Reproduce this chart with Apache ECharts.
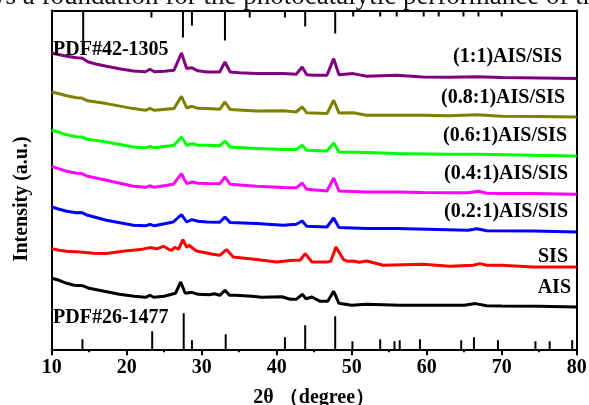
<!DOCTYPE html>
<html>
<head>
<meta charset="utf-8">
<script src="https://cdn.jsdelivr.net/npm/echarts@6/dist/echarts.min.js"></script>
<style>
html,body{margin:0;padding:0;background:#fff;}
#chart{width:589px;height:405px;}
</style>
</head>
<body>
<div id="chart"></div>
<script>
// ---- data (2θ in degrees, intensity in a.u., stacked offsets as drawn) ----
const seriesNames = ['(1:1)AIS/SIS','(0.8:1)AIS/SIS','(0.6:1)AIS/SIS','(0.4:1)AIS/SIS','(0.2:1)AIS/SIS','SIS','AIS'];
const seriesColors = ['#800080','#808000','#00ff00','#ff00ff','#0000ff','#ff0000','#000000'];

const data_1_1 = [[10,296.3],[11,294.5],[12,293],[13.3,291.5],[14.1,291],[14.8,287.5],[16,285],[17.3,283],[19,280.5],[20.9,278.3],[22.5,277.5],[23.1,280],[23.7,277.5],[25,278],[26.3,279],[27.3,296.3],[28,280.7],[28.7,281.5],[29.5,278.5],[30.7,277.3],[32.4,277.3],[33.1,287.3],[33.8,277.3],[35,276.5],[37.3,275.7],[40.9,275.7],[42.6,275],[43.4,282.3],[44,274.5],[45,274],[46.7,274],[47.6,290.7],[48.3,274.5],[50.2,275.7],[52,273],[56,274],[59.5,272.3],[63,272],[66.7,272.5],[70,271.7],[75,271.2],[80,270.7]];
const data_08_1 = [[10,257.3],[11,255.5],[12,253.5],[13.3,251.5],[14,251.2],[14.8,248.5],[17.3,245.7],[20.9,240.7],[22.5,239],[23.1,241],[23.7,239],[26.3,240.7],[27.3,253],[28,241.3],[28.7,243],[29.5,241],[30.7,240.7],[32.4,240],[33.1,247.3],[33.8,239.7],[37.3,238.3],[40.9,238.5],[42.6,237.3],[43.4,242.5],[44,236.5],[46.7,235.7],[47.6,249],[48.3,236.3],[50.2,236.5],[52,234],[56,234],[59.5,234],[63,233.5],[66.7,234.5],[70,233],[75,232.7],[80,232.3]];
const data_06_1 = [[10,219],[11,217],[12,214.5],[13.3,212.5],[14,212.3],[14.8,210],[17.3,207.3],[20.9,202.3],[22.5,201.5],[23.1,203],[23.7,201.5],[26.3,204],[27.3,212.3],[28,204],[28.7,205.7],[29.5,204],[30.7,204],[32.4,203.5],[33.1,208.3],[33.8,202.3],[37.3,200.7],[40.9,199.7],[42.6,199.7],[43.4,204],[44,199],[46.7,198.3],[47.6,206.3],[48.3,197.3],[52,196.7],[56,195.7],[63,195],[66.9,195],[74.2,194],[80,193.3]];
const data_04_1 = [[10,183],[11,180.5],[12,178],[13.3,176],[14,175.7],[14.8,173],[17.3,169],[20.9,163],[22.5,162],[23.1,163.5],[23.7,162],[26.2,165],[27.3,175.7],[28,165.7],[28.7,167.3],[29.5,166],[30.7,165.7],[32.4,165.5],[33.1,172.3],[33.8,165],[37.3,163],[40.9,161.7],[42.6,161.5],[43.4,166.3],[44,160],[46.7,158.3],[47.6,171.3],[48.3,158.3],[52,157.3],[56,157.3],[59.5,156.7],[65.5,156.5],[66.9,158],[68,156],[70,155.7],[74.2,155.7],[80,155]];
const data_02_1 = [[10,142.3],[11,140],[12,138],[13.3,136.5],[14,136.7],[14.8,134],[17.3,129],[20.9,124],[22.5,123.5],[23.1,125],[23.7,123.5],[26.2,127.3],[27.3,134.7],[28,127.3],[28.7,129.7],[29.5,128],[30.7,127.3],[32.4,127],[33.1,132.3],[33.8,126.7],[37.3,125.7],[40.9,124],[42.6,125],[43.4,128.3],[44,123],[46.7,122.3],[47.6,131.3],[48.3,121.7],[52,120.7],[56,120.7],[65.5,119],[66.7,120.5],[68,118.5],[74.2,118.3],[80,117.3]];
const data_SIS = [[10,100.7],[11,99],[12,98],[13.8,97.3],[15.5,96],[17.3,95.7],[19.5,98],[21.8,99.7],[23.1,101.7],[24,100.5],[24.9,103],[25.6,100],[26,99],[26.4,102],[26.9,100],[27.5,109.7],[28,102],[28.3,104],[29.3,98.3],[30.5,96.5],[31.5,95],[32.4,94],[33.3,99.7],[34.2,92.3],[37.3,89.7],[40,87.3],[42.2,89],[43.1,89],[43.8,95.7],[44.7,87.3],[46.7,87.3],[47.2,88],[47.9,102.3],[48.9,89.7],[49.5,88],[50.2,88.3],[51,87],[52,88.3],[54.2,84],[59.5,85],[63.1,83],[66.2,84],[67.1,85.7],[68,84],[70,84],[74.2,82.3],[80,82.3]];
const data_AIS = [[10,71],[11,69],[12,66],[13,64],[14.2,63.5],[15,61],[17,58],[19,55],[21,53],[22.5,52],[23.1,54],[23.6,52],[25,53],[26.5,56],[27.2,67.3],[27.8,56],[28.7,57],[29.5,55],[31,54.5],[31.7,55.5],[32.4,54],[33.1,59],[33.7,54],[34.5,54],[36.7,53],[38,52],[40.7,52.5],[41.8,50],[42.6,50],[43.4,55],[43.9,50.5],[44.7,52.3],[45.8,48],[46.8,48],[47.6,58],[48.3,46],[50,44],[52,45],[56.4,44],[60,44],[65,44],[66.5,45.7],[68,43.5],[70,43.3],[75,43],[80,42.3]];

// reference patterns: positions (2θ) and relative stick heights
const pdf42_theta  = [14.2,23.3,27.5,28.7,33.1,36.4,41.1,43.8,47.8,50.2,53.8,56.0,59.6,61.6,64.9,66.9,70.0];
const pdf42_height = [35,7,27,15,30,7,7,16,23,6,6,6,6,6,6,6,6];
const pdf26_theta  = [14.1,23.4,27.6,28.7,33.2,41.1,43.8,47.8,50.1,53.8,55.7,56.4,59.1,64.6,66.3,69.5,74.5,76.4,79.4];
const pdf26_height = [10,18,36,9,15,12,24,33,8,10,8,9,10,9,12,9,8,8,9];

const xTicks = [10,20,30,40,50,60,70,80];
const yMax = 338.8;

// ---- build option ----
const curves = [data_1_1,data_08_1,data_06_1,data_04_1,data_02_1,data_SIS,data_AIS];
function sticks(theta, h){
  const out=[];
  theta.forEach((t,i)=>{ out.push([t,0]); out.push([t,h[i]]); out.push([t,'-']); });
  return out;
}
const FONT = "'Liberation Serif','Times New Roman',serif";
const series = curves.map((d,i)=>({
  name: seriesNames[i], type:'line', data:d, showSymbol:false, silent:true,
  xAxisIndex:0, yAxisIndex:0,
  lineStyle:{color:seriesColors[i], width:3}, itemStyle:{color:seriesColors[i]},
  z:3
}));
series.push({type:'line', name:'PDF#26-1477', data:sticks(pdf26_theta,pdf26_height), xAxisIndex:0, yAxisIndex:0,
  showSymbol:false, connectNulls:false, lineStyle:{color:'#000',width:2}, silent:true, z:2});
series.push({type:'line', name:'PDF#42-1305', data:sticks(pdf42_theta,pdf42_height), xAxisIndex:1, yAxisIndex:1,
  showSymbol:false, connectNulls:false, lineStyle:{color:'#000',width:2}, silent:true, z:2});

const labelStyle = {font:"bold 20px "+FONT, fill:'#000'};
const labels = [
  {t:'(1:1)AIS/SIS', x:562, y:57, a:'right'},
  {t:'(0.8:1)AIS/SIS', x:565, y:98, a:'right'},
  {t:'(0.6:1)AIS/SIS', x:567, y:136, a:'right'},
  {t:'(0.4:1)AIS/SIS', x:568, y:174, a:'right'},
  {t:'(0.2:1)AIS/SIS', x:568, y:212, a:'right'},
  {t:'SIS', x:568, y:257, a:'right'},
  {t:'AIS', x:571, y:288, a:'right'},
  {t:'PDF#42-1305', x:53, y:50, a:'left'},
  {t:'PDF#26-1477', x:53, y:318, a:'left'}
];
const graphic = labels.map(l=>({type:'text', x:l.x, y:l.y, z:10,
  style:Object.assign({text:l.t, textAlign:l.a, textVerticalAlign:'middle'}, labelStyle)}));
graphic.push({type:'text', x:-14, y:-3, z:10, style:{text:'ws a foundation for the photocatalytic performance of the',
  font:"27px "+FONT, fill:'#111', textAlign:'left', textVerticalAlign:'middle'}});

const option = {
  animation:false,
  backgroundColor:'#fff',
  grid:{left:51.7, right:12.3, top:10.5, bottom:55.7, containLabel:false, outerBoundsMode:'none'},
  xAxis:[
    {type:'value', min:10, max:80, interval:10, position:'bottom',
     axisLine:{show:true, onZero:false, lineStyle:{color:'#000', width:2}},
     axisTick:{show:true, inside:false, length:6, lineStyle:{color:'#000', width:2}},
     minorTick:{show:true, splitNumber:2, length:3, lineStyle:{color:'#000', width:2}},
     splitLine:{show:false}, minorSplitLine:{show:false},
     axisLabel:{color:'#000', fontFamily:FONT, fontWeight:'bold', fontSize:20, margin:9,
       formatter:v=> xTicks.includes(v) ? String(v) : ''},
     name:'2θ （degree）', nameLocation:'middle', nameGap:39,
     nameTextStyle:{color:'#000', fontFamily:FONT, fontWeight:'bold', fontSize:20}},
    {type:'value', min:10, max:80, position:'top',
     axisLine:{show:true, onZero:false, lineStyle:{color:'#000', width:2}},
     axisTick:{show:false}, axisLabel:{show:false}, splitLine:{show:false}}
  ],
  yAxis:[
    {type:'value', min:0, max:yMax, position:'left',
     axisLine:{show:true, onZero:false, lineStyle:{color:'#000', width:2}},
     axisTick:{show:false}, axisLabel:{show:false}, splitLine:{show:false},
     name:'Intensity (a.u.)', nameLocation:'middle', nameGap:20, nameRotate:90,
     nameTextStyle:{color:'#000', fontFamily:FONT, fontWeight:'bold', fontSize:20, padding:[0,38,0,0]}},
    {type:'value', min:0, max:yMax, position:'right', inverse:true,
     axisLine:{show:true, onZero:false, lineStyle:{color:'#000', width:2}},
     axisTick:{show:false}, axisLabel:{show:false}, splitLine:{show:false}}
  ],
  series:series,
  graphic:graphic
};
const chart = echarts.init(document.getElementById('chart'), null, {renderer:'canvas'});
chart.setOption(option);
</script>
</body>
</html>
